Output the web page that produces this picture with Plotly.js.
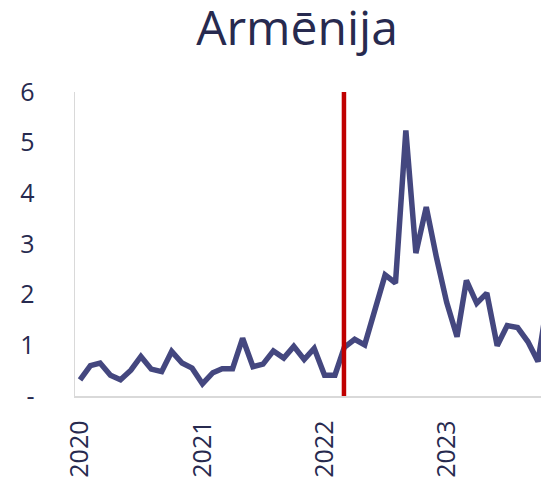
<!DOCTYPE html>
<html>
<head>
<meta charset="utf-8">
<script src="https://cdn.plot.ly/plotly-3.0.1.min.js"></script>
<style>html,body{margin:0;padding:0;background:#fff;}#chart{width:541px;height:480px;}</style>
</head>
<body>
<div id="chart"></div>
<script>
var months = [
  '2020-01-01','2020-02-01','2020-03-01','2020-04-01','2020-05-01','2020-06-01',
  '2020-07-01','2020-08-01','2020-09-01','2020-10-01','2020-11-01','2020-12-01',
  '2021-01-01','2021-02-01','2021-03-01','2021-04-01','2021-05-01','2021-06-01',
  '2021-07-01','2021-08-01','2021-09-01','2021-10-01','2021-11-01','2021-12-01',
  '2022-01-01','2022-02-01','2022-03-01','2022-04-01','2022-05-01','2022-06-01',
  '2022-07-01','2022-08-01','2022-09-01','2022-10-01','2022-11-01','2022-12-01',
  '2023-01-01','2023-02-01','2023-03-01','2023-04-01','2023-05-01','2023-06-01',
  '2023-07-01','2023-08-01','2023-09-01','2023-10-01','2023-11-01'
];
var values = [
  0.32, 0.60, 0.65, 0.41, 0.32, 0.51, 0.78, 0.53, 0.48, 0.88, 0.65, 0.55,
  0.24, 0.46, 0.54, 0.54, 1.14, 0.58, 0.63, 0.89, 0.75, 0.98, 0.72, 0.94,
  0.41, 0.41, 0.96, 1.12, 1.01, 1.70, 2.39, 2.23, 5.24, 2.82, 3.73, 2.75,
  1.85, 1.17, 2.28, 1.83, 2.03, 0.99, 1.39, 1.35, 1.07, 0.68, 2.00
];
var yearTicks = ['2020-01-01','2021-01-01','2022-01-01','2023-01-01'];
var yearLabels = ['2020','2021','2022','2023'];
var yTicks = [0, 1, 2, 3, 4, 5, 6];
var yLabels = ['-', '1', '2', '3', '4', '5', '6'];
var eventDate = '2022-02-28';
var titleText = 'Armēnija';

var textColor = '#272a4f';
var font = 'Open Sans, Noto Sans, sans-serif';

var trace = {
  x: months,
  y: values,
  type: 'scatter',
  mode: 'lines',
  line: {color: '#44477f', width: 5.5},
  hoverinfo: 'skip'
};

var layout = {
  width: 541,
  height: 480,
  margin: {l: 75, r: 0, t: 92, b: 84},
  paper_bgcolor: '#ffffff',
  plot_bgcolor: '#ffffff',
  showlegend: false,
  font: {family: font, color: textColor},
  title: {
    text: titleText,
    font: {family: font, size: 48, color: textColor},
    xref: 'container', x: 297/541, xanchor: 'center',
    yref: 'container', y: 1 - 28/480, yanchor: 'middle'
  },
  xaxis: {
    type: 'date',
    range: ['2019-12-17', '2023-10-10'],
    tickmode: 'array',
    tickvals: yearTicks,
    ticktext: yearLabels,
    tickangle: -90,
    tickfont: {family: font, size: 25, color: textColor},
    ticks: '',
    ticklabelstandoff: 13,
    showgrid: false,
    zeroline: false,
    showline: true,
    linecolor: '#d9d9d9',
    linewidth: 1.5,
    fixedrange: true
  },
  yaxis: {
    range: [0, 6],
    tickmode: 'array',
    tickvals: yTicks,
    ticktext: yLabels,
    tickfont: {family: font, size: 25, color: textColor},
    ticks: '',
    ticklabelstandoff: 34,
    showgrid: false,
    zeroline: false,
    showline: true,
    linecolor: '#d9d9d9',
    linewidth: 1.5,
    fixedrange: true
  },
  shapes: [{
    type: 'line',
    xref: 'x', yref: 'y',
    x0: eventDate, x1: eventDate,
    y0: 0, y1: 6,
    line: {color: '#c00000', width: 4.5},
    layer: 'above'
  }]
};

Plotly.newPlot('chart', [trace], layout, {displayModeBar: false, staticPlot: true});
</script>
</body>
</html>
